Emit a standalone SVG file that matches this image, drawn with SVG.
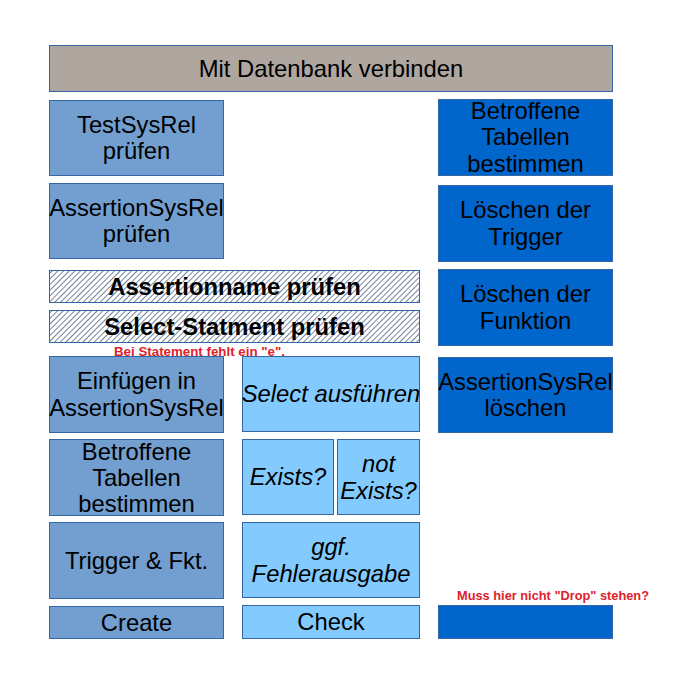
<svg xmlns="http://www.w3.org/2000/svg" width="680" height="680" viewBox="0 0 680 680">
<style>
  .box{stroke:#3465a4;stroke-width:1}
  .top{fill:#aea69f}
  .l{fill:#729fcf}
  .m{fill:#83caff}
  .r{fill:#0066cc}
  .h{fill:url(#hatch)}
  text{font-family:"Liberation Sans",Arial,sans-serif;font-size:23.8px;fill:#000;text-anchor:middle}
  .it{font-style:italic}
  .b{font-weight:bold}
  .note{font-size:13px;font-weight:bold;fill:#e0202a;text-anchor:start}
</style>
<defs>
  <pattern id="hatch" width="4" height="10" patternUnits="userSpaceOnUse" patternTransform="rotate(45)">
    <rect width="4" height="10" fill="#ffffff"/>
    <line x1="0.5" y1="0" x2="0.5" y2="10" stroke="#72839b" stroke-width="1"/>
  </pattern>
</defs>
<rect width="680" height="680" fill="#ffffff"/>
<g id="connectors"></g>

<g id="n-connect"><rect class="box top" x="49.5" y="45.5" width="563" height="46"/><text x="331" y="76.5">Mit Datenbank verbinden</text></g>

<g id="n-testsysrel"><rect class="box l" x="49.5" y="100.5" width="174" height="75"/><text x="136.5" y="132.5">TestSysRel</text><text x="136.5" y="159">prüfen</text></g>
<g id="n-assertionsysrel"><rect class="box l" x="49.5" y="183.5" width="174" height="75"/><text x="136.5" y="215.5">AssertionSysRel</text><text x="136.5" y="242">prüfen</text></g>

<g id="n-assertionname"><rect class="box h" x="49.5" y="270.5" width="370" height="32"/><text class="b" x="234.5" y="294.5">Assertionname prüfen</text></g>
<g id="n-select-stmt"><rect class="box h" x="49.5" y="310.5" width="370" height="32"/><text class="b" x="234.5" y="335">Select-Statment prüfen</text></g>

<g id="n-einfuegen"><rect class="box l" x="49.5" y="356.5" width="174" height="76"/><text x="136.5" y="389">Einfügen in</text><text x="136.5" y="415.5">AssertionSysRel</text></g>
<g id="n-betroffene-l"><rect class="box l" x="49.5" y="439.5" width="174" height="76"/><text x="136.5" y="459.5">Betroffene</text><text x="136.5" y="486">Tabellen</text><text x="136.5" y="512">bestimmen</text></g>
<g id="n-trigger"><rect class="box l" x="49.5" y="522.5" width="174" height="76"/><text x="136.5" y="569">Trigger &amp; Fkt.</text></g>
<g id="n-create"><rect class="box l" x="49.5" y="606.5" width="174" height="32"/><text x="136.5" y="631">Create</text></g>

<g id="n-select-exec"><rect class="box m" x="242.5" y="356.5" width="177" height="75"/><text class="it" x="331" y="402">Select ausführen</text></g>
<g id="n-exists"><rect class="box m" x="242.5" y="439.5" width="91" height="75"/><text class="it" x="288" y="485">Exists?</text></g>
<g id="n-notexists"><rect class="box m" x="337.5" y="439.5" width="82" height="75"/><text class="it" x="378.5" y="472">not</text><text class="it" x="378.5" y="498.5">Exists?</text></g>
<g id="n-fehler"><rect class="box m" x="242.5" y="522.5" width="177" height="75"/><text class="it" x="331" y="555">ggf.</text><text class="it" x="331" y="581.5">Fehlerausgabe</text></g>
<g id="n-check"><rect class="box m" x="242.5" y="605.5" width="177" height="33"/><text x="331" y="630">Check</text></g>

<g id="n-betroffene-r"><rect class="box r" x="438.5" y="99.5" width="174" height="76"/><text x="525.5" y="118.5">Betroffene</text><text x="525.5" y="145">Tabellen</text><text x="525.5" y="171.5">bestimmen</text></g>
<g id="n-loeschen-trigger"><rect class="box r" x="438.5" y="185.5" width="174" height="76"/><text x="525.5" y="218">Löschen der</text><text x="525.5" y="244.5">Trigger</text></g>
<g id="n-loeschen-funktion"><rect class="box r" x="438.5" y="269.5" width="174" height="76"/><text x="525.5" y="302">Löschen der</text><text x="525.5" y="328.5">Funktion</text></g>
<g id="n-assertionsysrel-loeschen"><rect class="box r" x="438.5" y="357.5" width="174" height="75"/><text x="525.5" y="389.5">AssertionSysRel</text><text x="525.5" y="416">löschen</text></g>
<g id="n-drop"><rect class="box r" x="438.5" y="605.5" width="174" height="33"/></g>

<g id="notes">
  <text class="note" x="114" y="356" textLength="171" lengthAdjust="spacingAndGlyphs">Bei Statement fehlt ein "e".</text>
  <text class="note" x="457" y="599.5" textLength="192" lengthAdjust="spacingAndGlyphs">Muss hier nicht "Drop" stehen?</text>
</g>
</svg>
